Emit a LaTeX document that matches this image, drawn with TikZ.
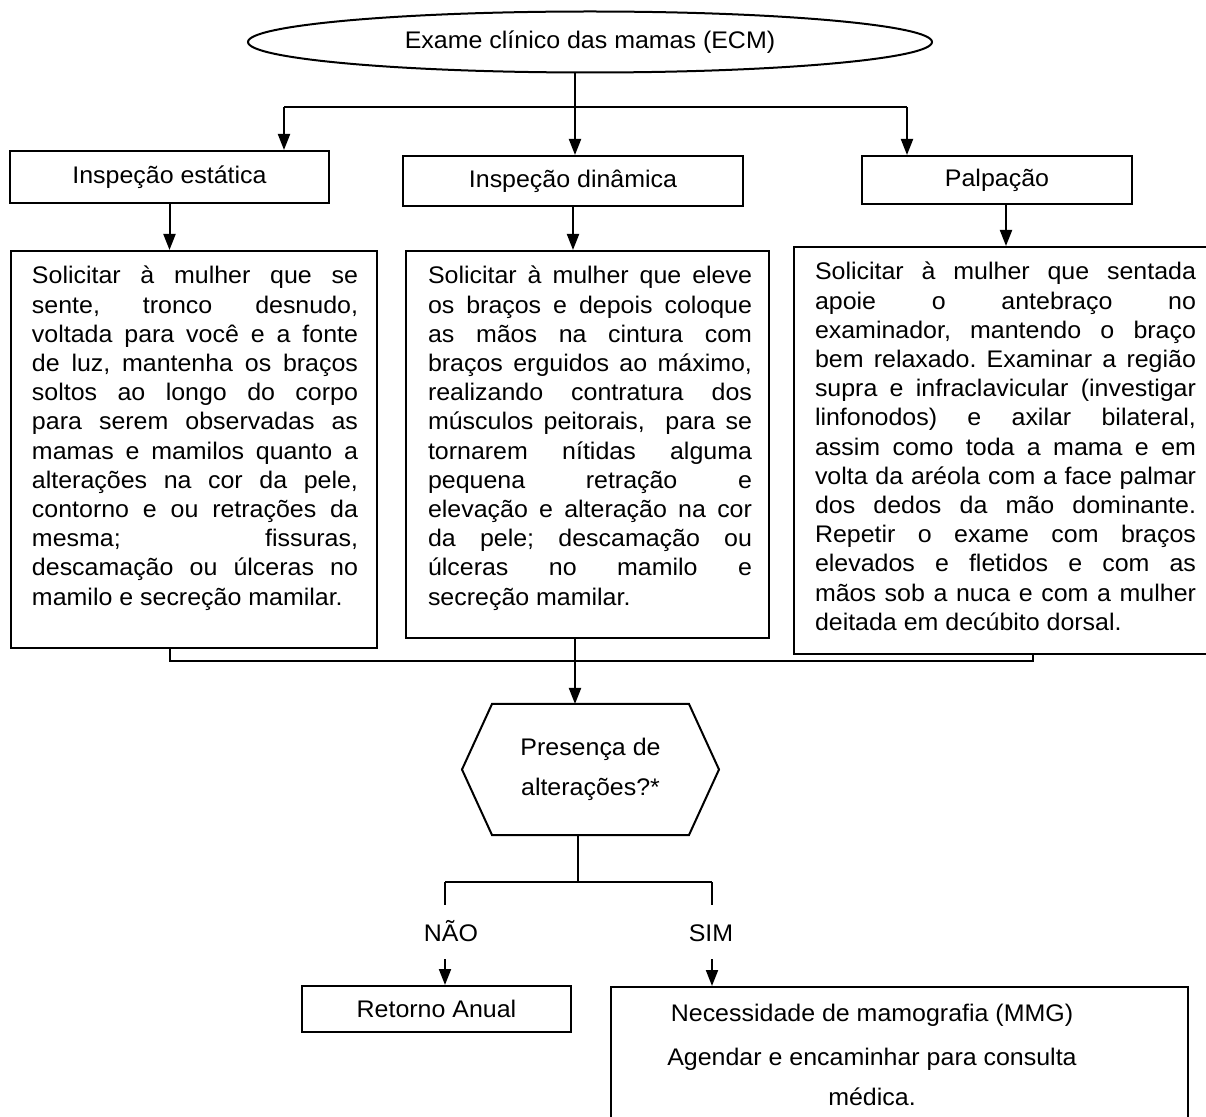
\documentclass[tikz,border=0pt]{standalone}
\usepackage{fontspec}
\setmainfont{Liberation Sans}[FakeStretch=1.04]
\usetikzlibrary{arrows.meta,shapes.geometric,calc}
\hbadness=10000
\frenchspacing
% one justified row of a text block, and a block of such rows
\newcommand{\jrow}[1]{\hbox to\hsize{#1}}
\newcommand{\jpara}[2]{\vtop{\hsize=#1\relax\baselineskip=14.6pt\relax #2}}

\begin{document}
\begin{tikzpicture}[x=0.5pt,y=-0.5pt,
  line width=1pt,
  every node/.style={font=\fontsize{12pt}{14.6pt}\selectfont},
  box/.style={draw, rectangle, inner sep=0pt},
  para/.style={inner sep=0pt, anchor=base west},
  lbl/.style={inner xsep=0pt, inner ysep=8.5pt, text height=9pt, text depth=0pt},
  arr/.style={-{Triangle[width=6pt,length=8pt]}},
]
\useasboundingbox (0,0) rectangle (1206,1117);

% top of the chart
\node[draw, ellipse, minimum width=342pt, minimum height=30.5pt, inner sep=0pt] (e0) at (590,42) {Exame clínico das mamas (ECM)};

\node[box, minimum width=159.5pt, minimum height=26pt] (b1) at (169.5,177) {Inspeção estática};
\node[box, minimum width=170pt, minimum height=25pt] (b2) at (573,181) {Inspeção dinâmica};
\node[box, minimum width=135pt, minimum height=24pt] (b3) at (997,180) {Palpação};

% description boxes
\node[box, anchor=north west, minimum width=183pt, minimum height=198.5pt] (b4) at (10,250) {};
\node[box, anchor=north west, minimum width=181.5pt, minimum height=193.5pt] (b5) at (405,250) {};
\node[box, anchor=north west, minimum width=211.5pt, minimum height=203.5pt] (b6) at (793,246) {};

\node[para] (t4) at (31,284) {\jpara{163pt}{%
\jrow{Solicitar à mulher que se}
\jrow{sente, tronco desnudo,}
\jrow{voltada para você e a fonte}
\jrow{de luz, mantenha os braços}
\jrow{soltos ao longo do corpo}
\jrow{para serem observadas as}
\jrow{mamas e mamilos quanto a}
\jrow{alterações na cor da pele,}
\jrow{contorno e ou retrações da}
\jrow{mesma; fissuras,}
\jrow{descamação ou úlceras no}
\hbox{mamilo e secreção mamilar.}}};

\node[para] (t5) at (427,284) {\jpara{162pt}{%
\jrow{Solicitar à mulher que eleve}
\jrow{os braços e depois coloque}
\jrow{as mãos na cintura com}
\jrow{braços erguidos ao máximo,}
\jrow{realizando contratura dos}
\jrow{músculos peitorais, \ para se}
\jrow{tornarem nítidas alguma}
\jrow{pequena retração e}
\jrow{elevação e alteração na cor}
\jrow{da pele; descamação ou}
\jrow{úlceras no mamilo e}
\hbox{secreção mamilar.}}};

\node[para] (t6) at (814,280) {\jpara{190.5pt}{%
\jrow{Solicitar à mulher que sentada}
\jrow{apoie o antebraço no}
\jrow{examinador, mantendo o braço}
\jrow{bem relaxado. Examinar a região}
\jrow{supra e infraclavicular (investigar}
\jrow{linfonodos) e axilar bilateral,}
\jrow{assim como toda a mama e em}
\jrow{volta da aréola com a face palmar}
\jrow{dos dedos da mão dominante.}
\jrow{Repetir o exame com braços}
\jrow{elevados e fletidos e com as}
\jrow{mãos sob a nuca e com a mulher}
\hbox{deitada em decúbito dorsal.}}};

% decision
\node[inner sep=0pt, minimum width=97.5pt, minimum height=64.5pt, align=center,
      font=\fontsize{12pt}{20pt}\selectfont] (hx) at (590.5,769.5) {Presença de\\alterações?*};
\draw (hx.north west) -- (hx.north east) -- ($(hx.east)+(30,0)$) -- (hx.south east)
  -- (hx.south west) -- ($(hx.west)+(-30,0)$) -- cycle;

\node[lbl] (nao) at (451,932) {NÃO};
\node[lbl] (sim) at (711,932) {SIM};

\node[box, minimum width=134.5pt, minimum height=23pt] (r1) at (436.5,1009) {Retorno Anual};
\node[box, anchor=north west, minimum width=288.5pt, minimum height=70pt] (r2) at (610,986) {};
\node[inner sep=0pt, anchor=north, align=center, font=\fontsize{12pt}{20pt}\selectfont] (t2) at (872,1003)
  {Necessidade de mamografia (MMG)\\[2pt]Agendar e encaminhar para consulta\\médica.};

% connectors
\coordinate (split) at (575,107);
\coordinate (sL) at (284,107);
\coordinate (sR) at (907,107);
\coordinate (pc) at ($(b3.south)+(9,0)$);
\coordinate (jn) at (1033,661);
\coordinate (fork) at (578,882);
\coordinate (lf) at (445,882);
\coordinate (rf) at (712,882);

\draw (e0.south -| split) -- (split);
\draw (sL) -- (sR);
\draw[arr] (sL) -- (sL |- b1.north);
\draw[arr] (split) -- (split |- b2.north);
\draw[arr] (sR) -- (sR |- b3.north);

\draw[arr] (b1.south) -- (b1.south |- b4.north);
\draw[arr] (b2.south) -- (b2.south |- b5.north);
\draw[arr] (pc) -- (pc |- b6.north);

\draw (b1.south |- b4.south) -- (b1.south |- jn) -- (jn) -- (jn |- b6.south);
\draw[arr] (split |- b5.south) -- (split |- hx.north);

\draw (fork |- hx.south) -- (fork);
\draw (lf) -- (rf);
\draw (lf) -- (lf |- nao.north);
\draw (rf) -- (rf |- sim.north);
\draw[arr] (lf |- nao.south) -- (lf |- r1.north);
\draw[arr] (rf |- sim.south) -- (rf |- r2.north);
\end{tikzpicture}
\end{document}
